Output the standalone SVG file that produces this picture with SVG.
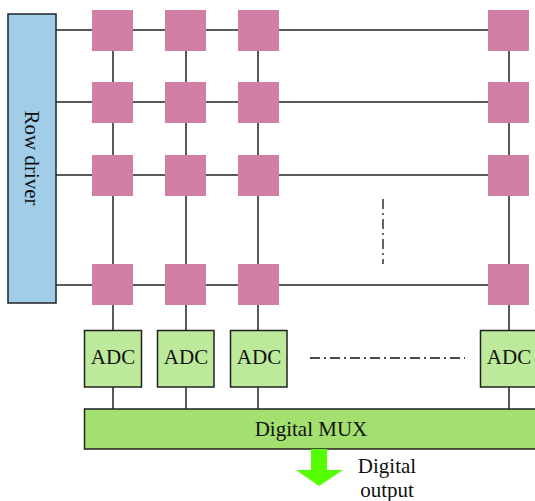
<svg xmlns="http://www.w3.org/2000/svg" width="535" height="501" viewBox="0 0 535 501">
<style>
.ln{stroke:#222;stroke-width:1.5;fill:none}
.dd{stroke:#111;stroke-width:1.3;fill:none;stroke-dasharray:10,4,2,4}
.px{fill:#d27fa5}
.adc{fill:#bde99a;stroke:#222;stroke-width:1.5}
.t{font-family:"Liberation Serif",serif;font-size:21px;fill:#111}
</style>
<rect width="535" height="501" fill="#fff"/>
<g id="connectors">
<line class="ln" x1="56" y1="30" x2="509" y2="30"/>
<line class="ln" x1="56" y1="102" x2="509" y2="102"/>
<line class="ln" x1="56" y1="175" x2="509" y2="175"/>
<line class="ln" x1="56" y1="285" x2="509" y2="285"/>
<line class="ln" x1="113" y1="30" x2="113" y2="409"/>
<line class="ln" x1="186" y1="30" x2="186" y2="409"/>
<line class="ln" x1="258" y1="30" x2="258" y2="409"/>
<line class="ln" x1="509" y1="30" x2="509" y2="409"/>
<line class="dd" x1="310" y1="358" x2="465" y2="358"/>
<line class="dd" x1="383" y1="199" x2="383" y2="264"/>
</g>
<g id="row-driver">
<rect x="8" y="14" width="48" height="289" fill="#a2cde9" stroke="#222" stroke-width="1.5"/>
<text class="t" transform="translate(25,158) rotate(90)" text-anchor="middle">Row driver</text>
</g>
<g id="pixels">
<rect class="px" x="92" y="10" width="41" height="41"/>
<rect class="px" x="165" y="10" width="41" height="41"/>
<rect class="px" x="238" y="10" width="41" height="41"/>
<rect class="px" x="488" y="10" width="41" height="41"/>
<rect class="px" x="92" y="82" width="41" height="41"/>
<rect class="px" x="165" y="82" width="41" height="41"/>
<rect class="px" x="238" y="82" width="41" height="41"/>
<rect class="px" x="488" y="82" width="41" height="41"/>
<rect class="px" x="92" y="155" width="41" height="41"/>
<rect class="px" x="165" y="155" width="41" height="41"/>
<rect class="px" x="238" y="155" width="41" height="41"/>
<rect class="px" x="488" y="155" width="41" height="41"/>
<rect class="px" x="92" y="264" width="41" height="41"/>
<rect class="px" x="165" y="264" width="41" height="41"/>
<rect class="px" x="238" y="264" width="41" height="41"/>
<rect class="px" x="488" y="264" width="41" height="41"/>
</g>
<g id="adc1"><rect class="adc" x="84.5" y="330.5" width="57" height="56.5"/><text class="t" x="113" y="364" text-anchor="middle">ADC</text></g>
<g id="adc2"><rect class="adc" x="157.5" y="330.5" width="56.5" height="56.5"/><text class="t" x="186" y="364" text-anchor="middle">ADC</text></g>
<g id="adc3"><rect class="adc" x="230.5" y="330.5" width="56.5" height="56.5"/><text class="t" x="259" y="364" text-anchor="middle">ADC</text></g>
<g id="adc4"><rect class="adc" x="480.5" y="330.5" width="57" height="56.5"/><text class="t" x="509" y="364" text-anchor="middle">ADC</text></g>
<g id="mux"><rect x="84.5" y="409" width="460" height="40" fill="#a3e070" stroke="#222" stroke-width="1.5"/><text class="t" x="311" y="436" text-anchor="middle">Digital MUX</text></g>
<g id="output">
<polygon points="311,449 327,449 327,470 343,470 319,486 296,470 311,470" fill="#55ff00"/>
<text class="t" x="387" y="473" text-anchor="middle">Digital</text>
<text class="t" x="387" y="497" text-anchor="middle">output</text>
</g>
</svg>
